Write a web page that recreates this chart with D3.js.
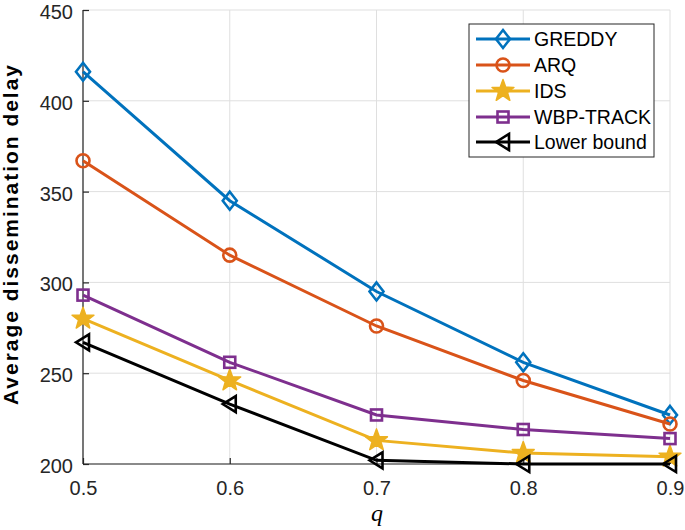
<!DOCTYPE html>
<html><head><meta charset="utf-8">
<script src="https://cdn.jsdelivr.net/npm/d3@7"></script>
<style>body{margin:0;background:#fff}svg{display:block}</style>
</head><body>
<svg id="c" width="685" height="530"></svg>
<script>
const qValues = [0.5, 0.6, 0.7, 0.8, 0.9];
const greddy = [416, 345, 295, 256, 227];
const arq = [367, 315, 276, 246, 222];
const ids = [280, 246, 213, 206, 204];
const wbpTrack = [293, 256, 227, 219, 214];
const lowerBound = [267, 233, 202, 200, 200];
const seriesNames = ["GREDDY", "ARQ", "IDS", "WBP-TRACK", "Lower bound"];
const xTicks = [0.5, 0.6, 0.7, 0.8, 0.9];
const yTicks = [200, 250, 300, 350, 400, 450];

const seriesValues = [greddy, arq, ids, wbpTrack, lowerBound];
const colors = ["#0072BD", "#D95319", "#EDB120", "#7E2F8E", "#000000"];
const markers = ["diamond", "circle", "star", "square", "triangle"];

const svg = d3.select("#c");
const L = 83, R = 670, T = 10, B = 464;
const x = d3.scaleLinear().domain([0.5, 0.9]).range([L, R]);
const y = d3.scaleLinear().domain([200, 450]).range([B, T]);
const font = "Liberation Sans, Arial, Helvetica, sans-serif";

// grid
const g = svg.append("g");
g.selectAll(".gx").data(xTicks).enter().append("line")
  .attr("x1", d => x(d)).attr("x2", d => x(d)).attr("y1", T).attr("y2", B)
  .attr("stroke", "#dfdfdf").attr("stroke-width", 1);
g.selectAll(".gy").data(yTicks).enter().append("line")
  .attr("x1", L).attr("x2", R).attr("y1", d => y(d)).attr("y2", d => y(d))
  .attr("stroke", "#dfdfdf").attr("stroke-width", 1);

// axes
const xAxis = d3.axisBottom(x).tickValues(xTicks).tickSize(-6).tickPadding(17).tickFormat(d3.format(".1f"));
const yAxis = d3.axisLeft(y).tickValues(yTicks).tickSize(-6).tickPadding(10);
const gx = svg.append("g").attr("transform", `translate(0,${B})`).call(xAxis);
const gy = svg.append("g").attr("transform", `translate(${L},0)`).call(yAxis);
[gx, gy].forEach(a => {
  a.select(".domain").attr("stroke", "#262626").attr("stroke-width", 1.2);
  a.selectAll(".tick line").attr("stroke", "#262626").attr("stroke-width", 1.2);
  a.selectAll("text").attr("font-family", font).attr("font-size", 20).attr("fill", "#262626");
});
gy.selectAll("text").attr("dy", "0.42em");
gx.select(".domain").attr("d", `M${L},0H${R}`);
gy.select(".domain").attr("d", `M0,${B}V${T}`);

// labels
svg.append("text").attr("transform", `translate(18,235) rotate(-90)`)
  .attr("text-anchor", "middle").attr("font-family", font).attr("font-weight", "bold")
  .attr("font-size", 21).attr("textLength", 340).attr("lengthAdjust", "spacing")
  .attr("fill", "#000").text("Average dissemination delay");
svg.append("text").attr("x", 377).attr("y", 521)
  .attr("text-anchor", "middle").attr("font-family", "Liberation Serif, Times New Roman, serif")
  .attr("font-style", "italic").attr("font-size", 24).attr("fill", "#000").text("q");

function drawMarker(sel, type, cx, cy, color) {
  let el;
  if (type === "circle") {
    el = sel.append("circle").attr("cx", cx).attr("cy", cy).attr("r", 6.5);
  } else if (type === "square") {
    el = sel.append("rect").attr("x", cx - 5.5).attr("y", cy - 5.5).attr("width", 11).attr("height", 11);
  } else if (type === "diamond") {
    el = sel.append("path").attr("d", `M${cx},${cy - 9}L${cx + 7},${cy}L${cx},${cy + 9}L${cx - 7},${cy}Z`);
  } else if (type === "triangle") {
    el = sel.append("path").attr("d", `M${cx - 7},${cy}L${cx + 6},${cy - 8}L${cx + 6},${cy + 8}Z`);
  } else if (type === "star") {
    const pts = [];
    for (let i = 0; i < 10; i++) {
      const r = i % 2 === 0 ? 11.5 : 4.7;
      const a = -Math.PI / 2 + i * Math.PI / 5;
      pts.push([cx + r * Math.cos(a), cy + r * Math.sin(a)]);
    }
    el = sel.append("path").attr("d", "M" + pts.map(p => p.join(",")).join("L") + "Z");
    el.attr("fill", color).attr("stroke", color).attr("stroke-width", 1.5).attr("stroke-linejoin", "round");
    return;
  }
  el.attr("fill", "none").attr("stroke", color).attr("stroke-width", 2.6);
}

const line = d3.line().x((d, i) => x(qValues[i])).y(d => y(d));
seriesValues.forEach((vals, s) => {
  const gs = svg.append("g");
  gs.append("path").datum(vals).attr("d", line).attr("fill", "none")
    .attr("stroke", colors[s]).attr("stroke-width", 3);
  vals.forEach((v, i) => drawMarker(gs, markers[s], x(qValues[i]), y(v), colors[s]));
});

// legend
const lg = svg.append("g");
lg.append("rect").attr("x", 469).attr("y", 24).attr("width", 185).attr("height", 133)
  .attr("fill", "#fff").attr("stroke", "#262626").attr("stroke-width", 1);
const rowY = [39, 65, 91, 117, 142];
seriesNames.forEach((name, s) => {
  lg.append("line").attr("x1", 476).attr("x2", 530).attr("y1", rowY[s]).attr("y2", rowY[s])
    .attr("stroke", colors[s]).attr("stroke-width", 3);
  drawMarker(lg, markers[s], 503, rowY[s], colors[s]);
  lg.append("text").attr("x", 534).attr("y", rowY[s]).attr("dy", "0.35em")
    .attr("font-family", font).attr("font-size", 19.5).attr("fill", "#000").text(name);
});
</script>
</body></html>
